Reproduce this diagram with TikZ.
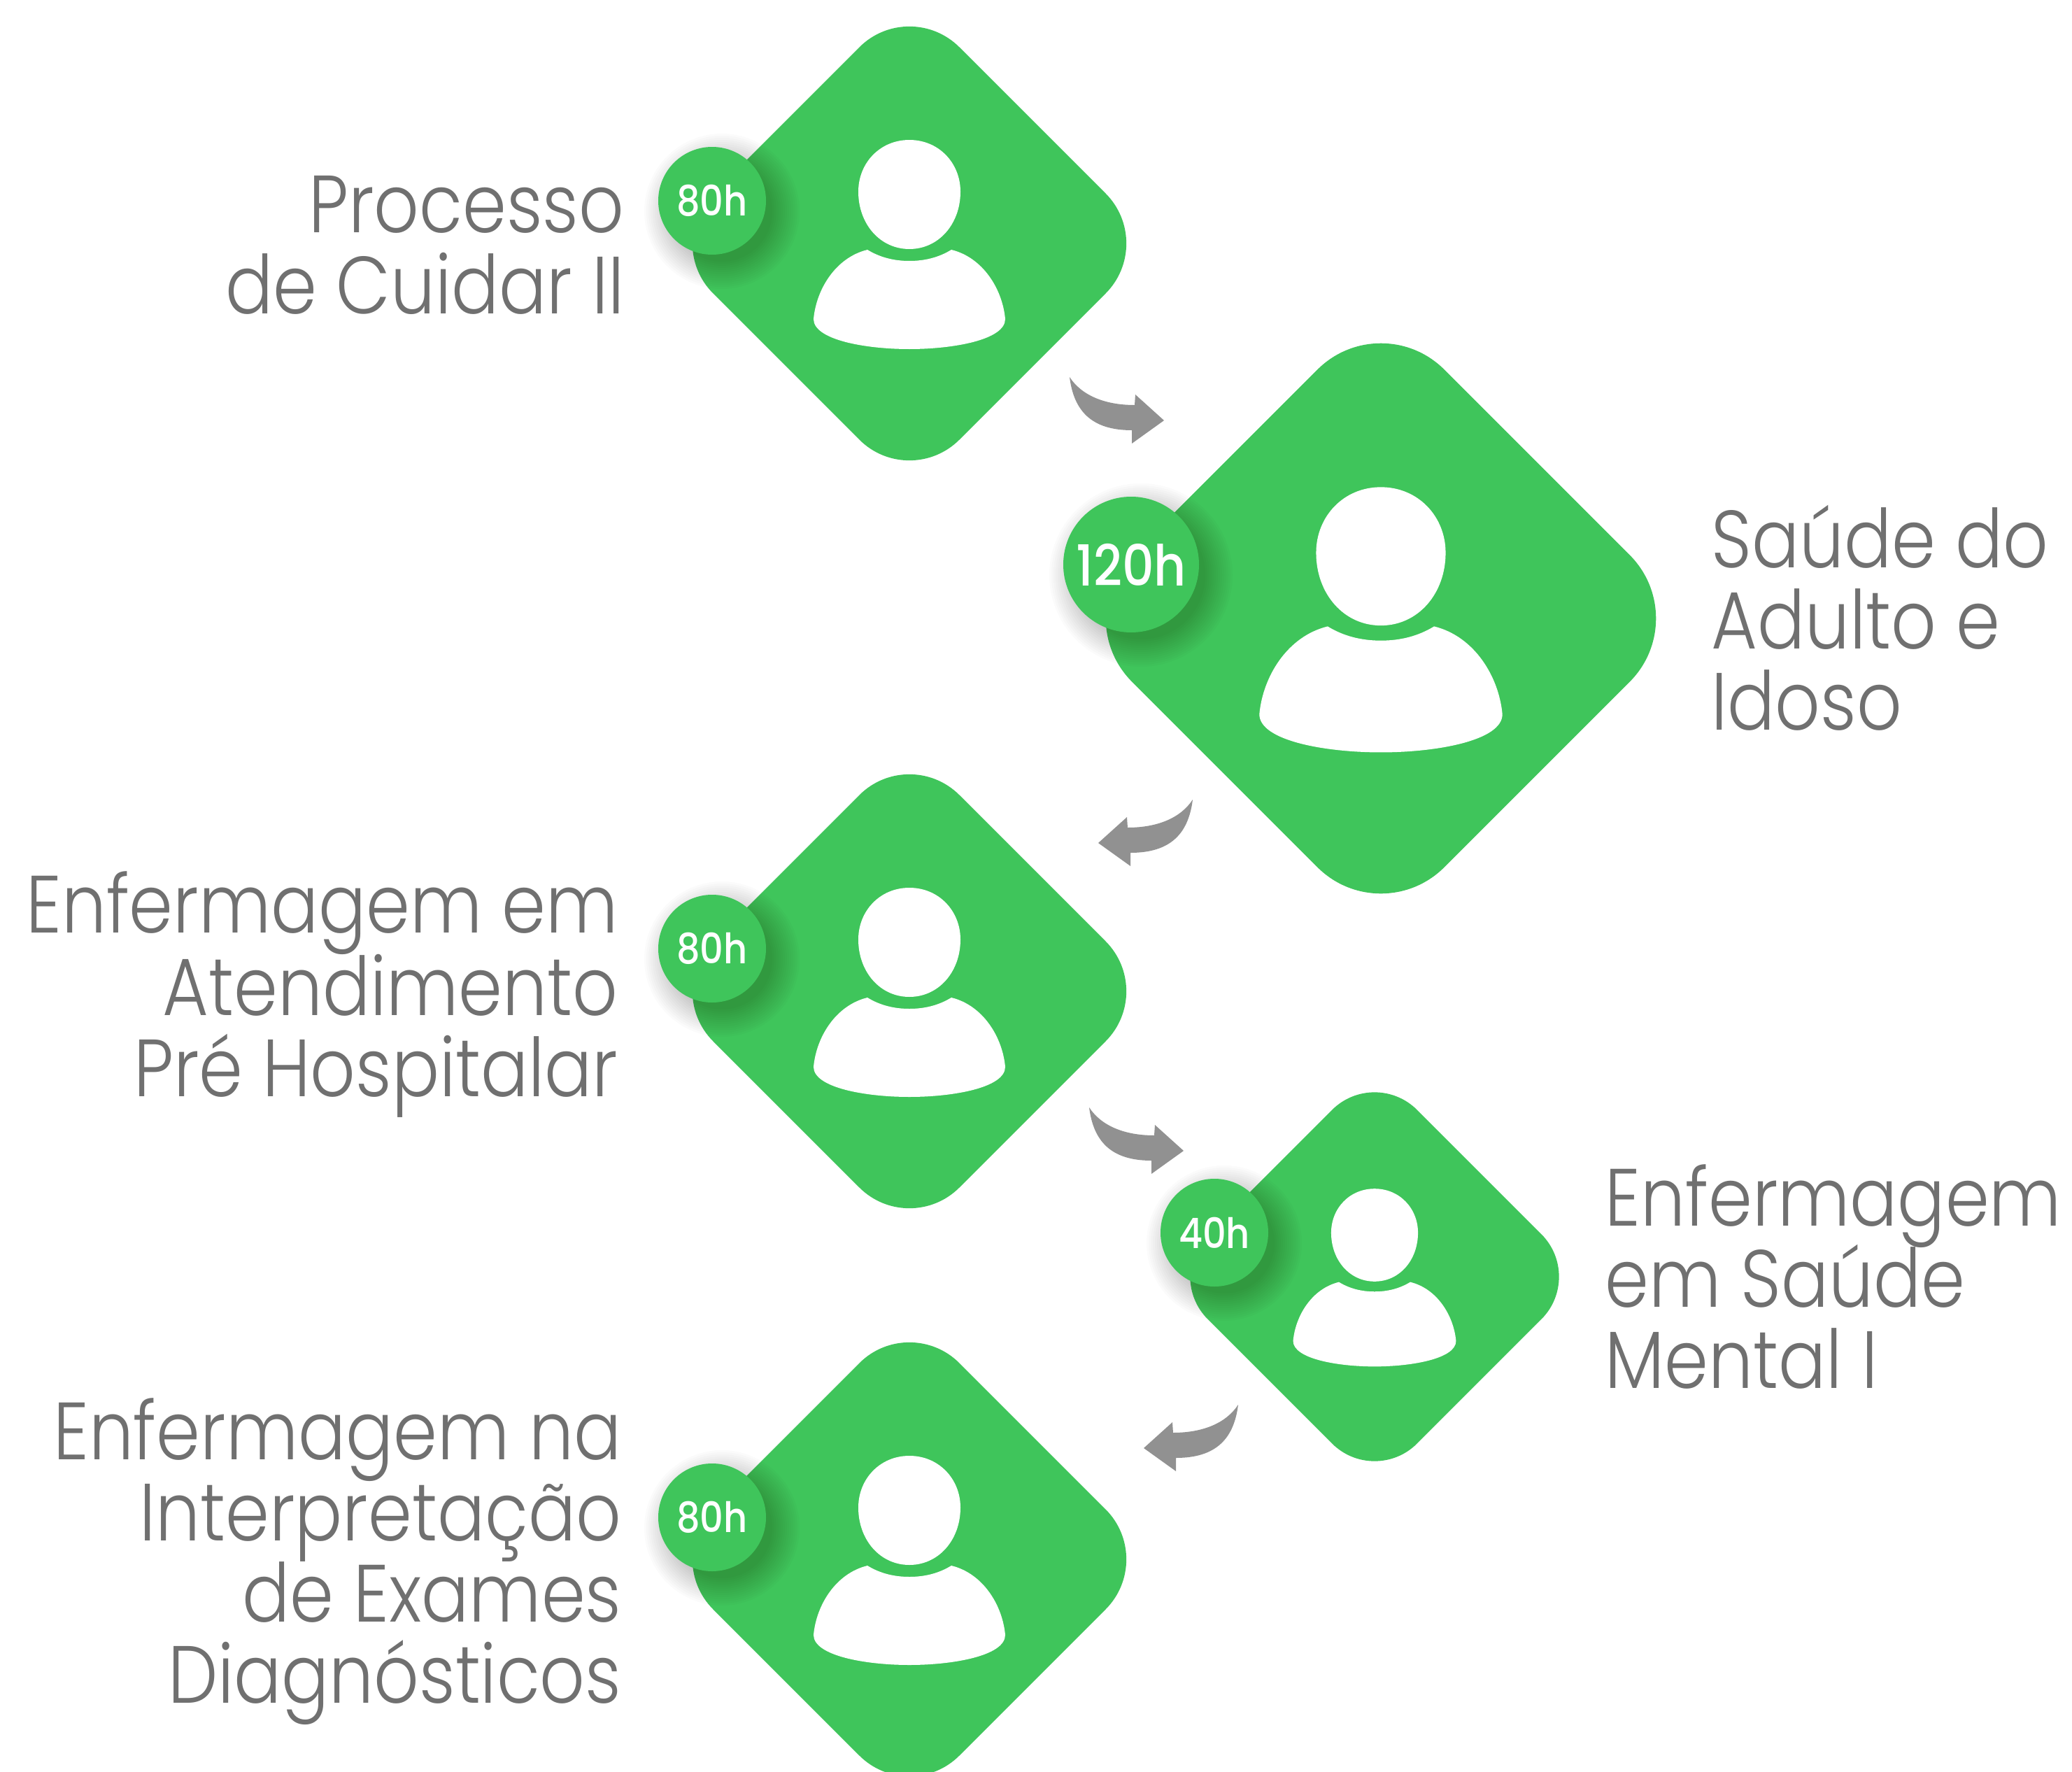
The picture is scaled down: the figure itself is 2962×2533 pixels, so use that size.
\documentclass[tikz,border=0pt]{standalone}
\usepackage{fontspec}
\setmainfont[FakeStretch=0.87]{Poppins Light}
\newfontfamily\badgefont[FakeStretch=0.88]{Poppins Medium}
\definecolor{leaf}{HTML}{3FC55B}
\definecolor{arrowgray}{HTML}{919191}
\definecolor{labelgray}{HTML}{707070}
\tikzset{
  leaffill/.style={fill=leaf,draw=none},
  bodyfill/.style={fill=white,draw=none},
  turnarrow/.style={fill=arrowgray,draw=none},
  textblock/.style={inner sep=0pt,text=labelgray,font=\fontsize{33}{33}\selectfont},
  labelright/.style={textblock,align=right,anchor=north east},
  labelleft/.style={textblock,align=left,anchor=north west},
  badge/.style={circle,fill=leaf,inner sep=0pt,text=white},
}
\newcommand{\firstline}{\rule{0pt}{30pt}}
% centre x, centre y, scale
\newcommand{\personcard}[3]{%
  \begin{scope}[shift={(#1,#2)},scale=#3]
    \path[leaffill] (-71.4,-280.6) .. controls (-31.9,-320) and (31.9,-320) .. (71.4,-280.6)
      -- (280.6,-71.4) .. controls (320,-31.9) and (320,31.9) .. (280.6,71.4)
      -- (71.4,280.6) .. controls (31.9,320) and (-31.9,320) .. (-71.4,280.6)
      -- (-280.6,71.4) .. controls (-320,31.9) and (-320,-31.9) .. (-280.6,-71.4) -- cycle;
    \path[bodyfill] (0,-148) .. controls (42,-148) and (73,-115) .. (73,-74)
      .. controls (73,-28) and (42,8) .. (0,8)
      .. controls (-42,8) and (-73,-28) .. (-73,-74)
      .. controls (-73,-115) and (-42,-148) .. (0,-148) -- cycle;
    \path[bodyfill] (-60,9) .. controls (-105,20) and (-133,65) .. (-137,108)
      .. controls (-137,138) and (-62,151) .. (0,151)
      .. controls (62,151) and (137,138) .. (137,108)
      .. controls (133,65) and (105,20) .. (60,9)
      .. controls (42,20) and (22,25) .. (0,25)
      .. controls (-22,25) and (-42,20) .. (-60,9) -- cycle;
  \end{scope}}
% centre x, centre y, radius, name, font size, text
\newcommand{\hourbadge}[6]{%
  \foreach \k in {0,...,13} {
    \fill[black,opacity=0.015] (#1+14,#2+15) circle ({#3+34-3*\k});
  }
  \node[badge,minimum size={2*#3*0.01cm},font=\badgefont\fontsize{#5}{#5}\selectfont] (#4) at (#1,#2) {#6};}
% tip x, tip y, direction (1 = points right, -1 = points left)
\newcommand{\turnarrow}[3]{%
  \path[turnarrow,shift={(#1,#2)},xscale=#3] (-135,-62)
    .. controls (-118,-36) and (-85,-22) .. (-42,-22)
    -- (-41,-37) -- (0,0) -- (-46,33) -- (-46,14)
    .. controls (-104,14) and (-129,-14) .. (-135,-62) -- cycle;}
\begin{document}
\begin{tikzpicture}[x=0.01cm,y=-0.01cm]
  \fill[white] (0,0) rectangle (2962,2533);
  \useasboundingbox (0,0) rectangle (2962,2533);
  \clip (0,0) rectangle (2962,2533);

  \personcard{1300}{348}{1}
  \personcard{1974}{884}{1.268}
  \personcard{1300}{1417}{1}
  \personcard{1965}{1825}{0.85}
  \personcard{1300}{2229}{1}

  \hourbadge{1018}{287}{77}{b1}{17}{80h}
  \hourbadge{1617}{807}{97}{b2}{23}{120h}
  \hourbadge{1018}{1356}{77}{b3}{17}{80h}
  \hourbadge{1736}{1762}{77}{b4}{17}{40h}
  \hourbadge{1018}{2169}{77}{b5}{17}{80h}

  \turnarrow{1664}{601}{1}
  \turnarrow{1570}{1205}{-1}
  \turnarrow{1692}{1645}{1}
  \turnarrow{1635}{2070}{-1}

  \node[labelright] (t1) at (893,226) {\firstline Processo\\de Cuidar II};
  \node[labelleft] (t2) at (2446,705) {\firstline Saúde do\\Adulto e\\Idoso};
  \node[labelright] (t3) at (884,1227) {\firstline Enfermagem em\\[-1.1pt]Atendimento\\Pré Hospitalar};
  \node[labelleft] (t4) at (2294,1646) {\firstline Enfermagem\\[-2.1pt]em Saúde\\Mental I};
  \node[labelright] (t5) at (889,1980) {\firstline Enfermagem na\\Interpretação\\de Exames\\Diagnósticos};
\end{tikzpicture}
\end{document}
